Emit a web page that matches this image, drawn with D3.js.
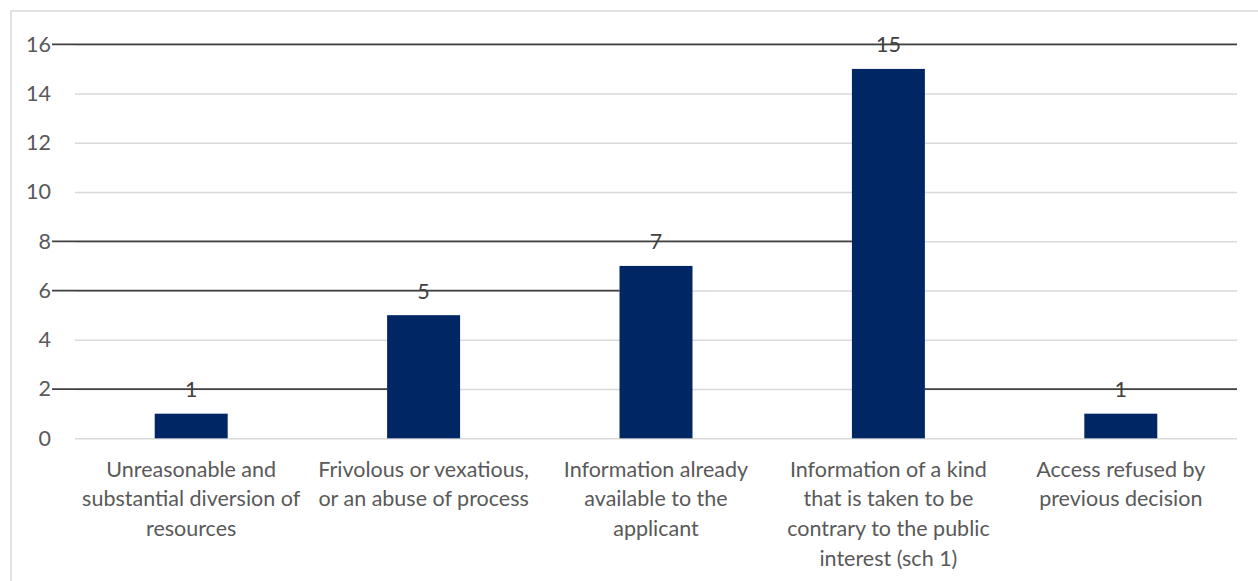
<!DOCTYPE html>
<html>
<head>
<meta charset="utf-8">
<script src="https://cdn.jsdelivr.net/npm/d3@7"></script>
<style>
  html, body { margin: 0; padding: 0; background: #fff; }
  svg { display: block; }
  text { font-family: Lato, "Open Sans", sans-serif; }
</style>
</head>
<body>
<svg id="chart" width="1258" height="581"></svg>
<script>
// ---- data ----
const categories = [
  ["Unreasonable and", "substantial diversion of", "resources"],
  ["Frivolous or vexatious,", "or an abuse of process"],
  ["Information already", "available to the", "applicant"],
  ["Information of a kind", "that is taken to be", "contrary to the public", "interest (sch 1)"],
  ["Access refused by", "previous decision"]
];
const values = [1, 5, 7, 15, 1];
const yTicks = [0, 2, 4, 6, 8, 10, 12, 14, 16];
// dark rule artifacts: value, from (null = axis start, else right edge of bar i), to (null = plot end, else left edge of bar i)
const darkRuleValues = [16, 8, 6, 2, 2];
const darkRuleFrom   = [null, null, null, null, 3];
const darkRuleTo     = [null, 3, 2, 1, null];

// ---- layout ----
const svg = d3.select("#chart");
const W = 1258, H = 581;
const plotLeft = 75, plotRight = 1237, plotTop = 44.3, plotBottom = 438.3;
const ruleStart = 52;
const fs = "21.5px";

const x = d3.scaleBand()
  .domain(d3.range(values.length))
  .range([plotLeft, plotRight])
  .padding(0);
const barW = x.bandwidth() * 0.314;
const bx = i => x(i) + (x.bandwidth() - barW) / 2;

const y = d3.scaleLinear().domain([0, 16]).range([plotBottom, plotTop]);

// outer border
svg.append("rect")
  .attr("x", 11).attr("y", 11)
  .attr("width", W + 20).attr("height", H + 20)
  .attr("fill", "none").attr("stroke", "#d9d9d9").attr("stroke-width", 1.5);

// gridlines via axis
const grid = svg.append("g")
  .attr("transform", `translate(${plotLeft},0)`)
  .call(d3.axisRight(y).tickValues(yTicks).tickSize(plotRight - plotLeft).tickFormat(""));
grid.select(".domain").remove();
grid.selectAll(".tick line").attr("stroke", "#d9d9d9").attr("stroke-width", 1.5);

// y tick labels via axis
const yAxis = svg.append("g")
  .attr("transform", `translate(${plotLeft},0)`)
  .call(d3.axisLeft(y).tickValues(yTicks).tickSize(0).tickPadding(24).tickFormat(d3.format("d")));
yAxis.select(".domain").remove();
yAxis.selectAll("text")
  .attr("fill", "#595959")
  .style("font-size", fs)
  .style("font-family", "Lato, 'Open Sans', sans-serif");

// dark rules (drawn behind bars)
svg.append("g").selectAll("line")
  .data(darkRuleValues.map((v, i) => ({ v, from: darkRuleFrom[i], to: darkRuleTo[i] })))
  .join("line")
  .attr("x1", d => d.from === null ? ruleStart : bx(d.from) + barW)
  .attr("x2", d => d.to === null ? plotRight : bx(d.to))
  .attr("y1", d => y(d.v)).attr("y2", d => y(d.v))
  .attr("stroke", "#404040").attr("stroke-width", 1.8);

// bars
svg.append("g").selectAll("rect")
  .data(values)
  .join("rect")
  .attr("x", (d, i) => bx(i))
  .attr("y", d => y(d))
  .attr("width", barW)
  .attr("height", d => y(0) - y(d))
  .attr("fill", "#002664");

// data labels
svg.append("g").selectAll("text")
  .data(values)
  .join("text")
  .attr("x", (d, i) => x(i) + x.bandwidth() / 2)
  .attr("y", d => y(d) - 24)
  .attr("dy", "0.35em")
  .attr("text-anchor", "middle")
  .attr("fill", "#404040")
  .style("font-size", fs)
  .text(d => d);

// category labels
const cat = svg.append("g").selectAll("text")
  .data(categories)
  .join("text")
  .attr("text-anchor", "middle")
  .attr("fill", "#595959")
  .style("font-size", fs)
  .attr("x", (d, i) => x(i) + x.bandwidth() / 2)
  .attr("y", 469);
cat.selectAll("tspan")
  .data(d => d)
  .join("tspan")
  .attr("x", function () { return this.parentNode.getAttribute("x"); })
  .attr("y", (d, j) => 469 + j * 29.7)
  .attr("dy", "0.35em")
  .text(d => d);
</script>
</body>
</html>
